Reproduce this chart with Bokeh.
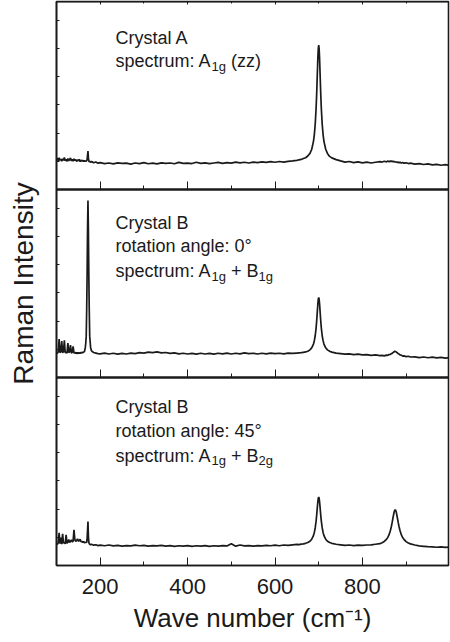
from bokeh.plotting import figure
from bokeh.models import Range1d, LinearAxis, FixedTicker, Label
from bokeh.embed import file_html
from bokeh.resources import INLINE

# ---------------- data ----------------
wavenumber = [
    100, 102, 104, 106, 108, 110, 112, 114, 116, 118, 120, 122, 124, 126, 128, 130, 132, 134,
    136, 138, 140, 142, 144, 146, 148, 150, 152, 154, 156, 158, 160, 162, 164, 166,
    167, 168, 169, 170, 171, 172, 173, 174, 175, 176, 178, 180, 185, 190, 195,
    200, 210, 220, 230, 240, 250, 260, 270, 280, 290, 300, 310, 320, 330, 340, 350, 360, 370,
    380, 390, 400, 410, 420, 430, 440, 450, 460, 470, 480, 490, 500, 510, 520, 530, 540, 550,
    560, 570, 580, 590, 600, 610, 620, 630, 640,
    650, 655, 660, 665, 670, 675, 680, 684, 688, 690, 692, 694, 695, 696, 697, 698, 699, 700,
    701, 702, 703, 704, 705, 706, 708, 710, 712, 716, 720, 725, 730, 740,
    750, 760, 770, 780, 790, 800, 810, 820, 830, 840,
    845, 850, 855, 858, 861, 864, 866, 868, 870, 872, 873, 874, 875, 876, 877, 878, 880, 882,
    884, 886, 889, 892, 895, 900, 905, 910,
    920, 930, 940, 950, 960, 970, 980, 990, 1000,
]

crystal_a_zz = [
    15.8, 16.6, 15.2, 16.9, 15.6, 16.2, 15.0, 16.4, 15.5, 17.0, 15.3, 16.1, 15.0, 16.5, 15.4, 15.9, 16.8, 15.2,
    16.0, 15.1, 16.3, 15.5, 15.9, 14.9, 15.8, 15.3, 16.0, 14.8, 15.6, 15.1, 15.5, 14.9, 15.4, 15.0,
    15.3, 14.9, 15.4, 15.8, 18.0, 20.4, 16.8, 15.1, 14.7, 15.0, 14.5, 14.9, 14.2, 14.6, 14.0,
    14.3, 13.8, 14.1, 13.6, 14.2, 13.9, 14.0, 13.5, 14.1, 13.8, 14.3, 13.7, 14.0, 13.6, 14.2, 13.9, 14.1, 13.7,
    14.4, 13.9, 14.0, 13.8, 14.5, 13.9, 14.2, 13.8, 14.1, 14.4, 13.9, 14.3, 14.0, 14.6, 14.2, 14.5, 14.1, 14.6,
    14.3, 14.7, 14.4, 14.8, 14.5, 14.9, 14.6, 15.0, 15.2,
    15.5, 15.8, 16.0, 16.5, 16.9, 17.8, 19.2, 21.4, 25.6, 29.2, 34.7, 43.1, 48.8, 55.3, 62.6, 69.6, 74.8, 76.8,
    74.8, 69.6, 62.6, 55.3, 48.8, 43.1, 34.7, 29.2, 25.6, 21.4, 19.2, 17.6, 16.8, 15.9,
    15.2, 14.6, 14.9, 14.3, 14.7, 14.2, 14.6, 14.1, 14.5, 14.8,
    14.6, 15.0, 14.7, 15.1, 14.8, 15.2, 14.9, 15.1, 14.7, 15.0, 14.6, 14.9, 14.5, 14.8, 14.4, 14.7, 14.3, 14.6,
    14.2, 14.5, 14.1, 14.4, 14.0, 14.2, 13.8, 14.0,
    13.5, 13.8, 13.3, 13.6, 13.1, 13.4, 12.9, 13.2, 12.8,
]

crystal_b_0deg = [
    13.4, 12.8, 13.6, 20.5, 13.2, 13.8, 19.4, 13.1, 13.9, 19.8, 13.0, 13.6, 12.9, 18.3, 13.2, 13.7, 17.2, 12.9,
    13.5, 16.6, 13.0, 13.4, 12.8, 13.3, 12.7, 13.2, 12.8, 13.3, 12.9, 13.4, 13.2, 13.5, 13.8, 16.0,
    18.5, 22.0, 35.0, 53.5, 78.0, 94.2, 78.0, 53.5, 35.0, 22.0, 16.0, 14.2, 13.3, 13.0, 12.7,
    12.6, 13.0, 12.5, 12.9, 12.4, 12.8, 12.5, 13.0, 12.7, 13.2, 13.0, 13.5, 13.2, 13.6, 13.1, 13.3, 12.8, 13.1,
    12.6, 12.9, 12.5, 12.8, 12.4, 12.9, 12.5, 12.8, 12.4, 12.9, 12.6, 13.0, 12.5, 12.9, 12.6, 13.1, 12.7, 12.9,
    12.5, 12.9, 12.6, 13.0, 12.7, 12.9, 12.6, 13.0, 12.8,
    13.0, 13.1, 13.2, 13.4, 13.6, 14.0, 14.7, 15.8, 17.8, 19.6, 22.2, 26.3, 29.1, 32.2, 35.7, 39.1, 41.6, 42.6,
    41.6, 39.1, 35.7, 32.2, 29.1, 26.3, 22.2, 19.6, 17.8, 15.8, 14.7, 14.0, 13.5, 13.0,
    12.7, 12.4, 12.6, 12.2, 12.4, 12.0, 12.2, 11.8, 12.0, 11.6,
    11.8, 11.5, 11.9, 11.8, 12.2, 12.3, 12.7, 12.8, 13.3, 13.5, 13.9, 13.8, 14.0, 13.7, 13.8, 13.3, 13.2, 12.6,
    12.5, 12.0, 11.9, 11.4, 11.5, 11.1, 11.3, 10.9,
    11.0, 10.6, 10.9, 10.5, 10.8, 10.4, 10.7, 10.3, 10.6,
]

crystal_b_45deg = [
    11.8, 11.2, 12.0, 17.4, 11.6, 14.8, 11.4, 16.9, 11.9, 12.3, 11.5, 16.3, 11.8, 12.4, 13.8, 12.2, 12.9, 13.6,
    12.5, 13.0, 19.0, 13.6, 12.8, 13.4, 14.2, 12.9, 13.3, 13.9, 12.6, 12.9, 12.3, 12.7, 12.1, 12.4,
    12.0, 12.5, 12.2, 14.0, 18.5, 23.4, 15.5, 12.2, 11.6, 11.3, 11.0, 11.3, 10.8, 11.0, 10.6,
    10.8, 10.5, 10.9, 10.4, 10.7, 10.3, 10.6, 10.4, 10.8, 10.5, 10.7, 10.3, 10.6, 10.4, 10.7, 10.3, 10.6, 10.2,
    10.5, 10.3, 10.6, 10.2, 10.5, 10.3, 10.6, 10.2, 10.5, 10.3, 10.6, 10.4, 11.6, 10.3, 10.9, 10.4, 10.6, 10.3,
    10.6, 10.4, 10.7, 10.5, 10.8, 10.5, 10.9, 10.7, 11.0,
    11.2, 11.1, 11.4, 11.5, 11.8, 12.2, 12.9, 14.0, 15.9, 17.6, 20.0, 23.6, 25.9, 28.5, 31.3, 33.8, 35.7, 36.4,
    35.7, 33.8, 31.3, 28.5, 25.9, 23.6, 20.0, 17.6, 15.9, 14.0, 12.9, 12.2, 11.8, 11.3,
    11.0, 10.7, 10.9, 10.6, 10.8, 10.7, 10.9, 11.0, 11.3, 11.6,
    12.1, 12.8, 13.9, 14.9, 16.4, 18.6, 20.5, 22.8, 25.4, 27.8, 28.8, 29.4, 29.6, 29.4, 28.8, 27.8, 25.4, 22.8,
    20.5, 18.6, 16.4, 14.9, 13.9, 12.7, 12.0, 11.5,
    10.9, 10.4, 10.2, 10.0, 9.9, 9.7, 9.9, 9.6, 9.8,
]

x_ticks = [200, 400, 600, 800]
x_minor_ticks = [100, 300, 500, 700, 900]
y_ticks = [15, 30, 45, 60, 75, 90, 115, 130, 145, 160, 175, 190, 215, 230, 245, 260, 275, 290]

assert len(wavenumber) == len(crystal_a_zz) == len(crystal_b_0deg) == len(crystal_b_45deg)

INK = "#1a1a1a"
FONT = "Liberation Sans"

p = figure(width=450, height=642, x_range=Range1d(100, 997), y_range=Range1d(0, 300),
           output_backend="svg", toolbar_location=None,
           min_border_left=56, min_border_right=2, min_border_top=1, min_border_bottom=77)
p.extra_y_ranges = {"p1": Range1d(-200, 100), "p2": Range1d(-100, 200), "p3": Range1d(0, 300)}
p.xgrid.visible = False
p.ygrid.visible = False
p.outline_line_color = INK
p.outline_line_width = 1.6
p.background_fill_color = "white"
p.border_fill_color = "white"

# spectra
for series, rng in ((crystal_a_zz, "p1"), (crystal_b_0deg, "p2"), (crystal_b_45deg, "p3")):
    p.line(wavenumber, series, y_range_name=rng, line_color=INK, line_width=1.7)

# bottom axis
bx = p.below[0]
bx.ticker = FixedTicker(ticks=x_ticks, minor_ticks=x_minor_ticks)
bx.major_tick_in = 8
bx.major_tick_out = 0
bx.minor_tick_in = 4
bx.minor_tick_out = 0
bx.axis_line_color = INK
bx.axis_line_width = 1.6
bx.major_tick_line_color = INK
bx.minor_tick_line_color = INK
bx.major_label_text_font = FONT
bx.major_label_text_font_size = "22px"
bx.major_label_text_color = INK
bx.major_label_standoff = 13
bx.axis_label = "Wave number (cm\u207b\u00b9)"
bx.axis_label_text_font = FONT
bx.axis_label_text_font_size = "26px"
bx.axis_label_text_font_style = "normal"
bx.axis_label_text_color = INK
bx.axis_label_standoff = 6

# left axis: only small inward ticks (as minor ticks, no labels)
ly = p.left[0]
ly.ticker = FixedTicker(ticks=[], minor_ticks=y_ticks)
ly.major_tick_in = 0
ly.major_tick_out = 0
ly.minor_tick_in = 3
ly.minor_tick_out = 0
ly.major_label_standoff = 0
ly.axis_line_color = INK
ly.axis_line_width = 1.6
ly.minor_tick_line_color = INK
ly.axis_label = "Raman Intensity"
ly.axis_label_text_font = FONT
ly.axis_label_text_font_size = "28px"
ly.axis_label_text_font_style = "normal"
ly.axis_label_text_color = INK
ly.axis_label_standoff = 18


def tick_axis(loc, side, ticks, length, width):
    ax = LinearAxis(fixed_location=loc, ticker=FixedTicker(ticks=[], minor_ticks=ticks),
                    major_tick_in=0, major_tick_out=0, minor_tick_in=length, minor_tick_out=0,
                    axis_line_color=INK, axis_line_width=width, minor_tick_line_color=INK)
    p.add_layout(ax, side)


# panel separators with inward ticks
for loc in (100, 200):
    tick_axis(loc, "below", x_ticks, 8, 1.8)
    tick_axis(loc, "below", x_minor_ticks, 4, 1.8)
tick_axis(300, "above", x_ticks, 3, 1.6)
tick_axis(300, "above", x_minor_ticks, 2, 1.6)

# panel annotations
TX = 235
MAIN = "18px"
SUB = "13px"
W_SPEC = 96.0     # width of "spectrum: A" at 18px
W_SUB = 14.5      # width of "1g" at 13px
W_SP = 5.0        # a space at 18px
W_PLUS = 32.5     # width of " + B" at 18px


def txt(text, y, rng, dx=0, dy=0, size=MAIN):
    p.add_layout(Label(x=TX, y=y, y_range_name=rng, x_offset=dx, y_offset=dy, text=text,
                       text_align="left", text_baseline="alphabetic", text_font=FONT,
                       text_font_size=size, text_color=INK))


txt("Crystal A", 80.6, "p1")
txt("spectrum: A", 68.2, "p1")
txt("1g", 68.2, "p1", dx=W_SPEC, dy=-5, size=SUB)
txt("(zz)", 68.2, "p1", dx=W_SPEC + W_SUB + W_SP)

txt("Crystal B", 82.4, "p2")
txt("rotation angle: 0°", 70.1, "p2")
txt("spectrum: A", 56.5, "p2")
txt("1g", 56.5, "p2", dx=W_SPEC, dy=-5, size=SUB)
txt("+ B", 56.5, "p2", dx=W_SPEC + W_SUB + W_SP)
txt("1g", 56.5, "p2", dx=W_SPEC + W_SUB + W_PLUS, dy=-5, size=SUB)

txt("Crystal B", 84.3, "p3")
txt("rotation angle: 45°", 71.6, "p3")
txt("spectrum: A", 58.3, "p3")
txt("1g", 58.3, "p3", dx=W_SPEC, dy=-5, size=SUB)
txt("+ B", 58.3, "p3", dx=W_SPEC + W_SUB + W_SP)
txt("2g", 58.3, "p3", dx=W_SPEC + W_SUB + W_PLUS, dy=-5, size=SUB)

open("out.html", "w").write(file_html(p, INLINE))
